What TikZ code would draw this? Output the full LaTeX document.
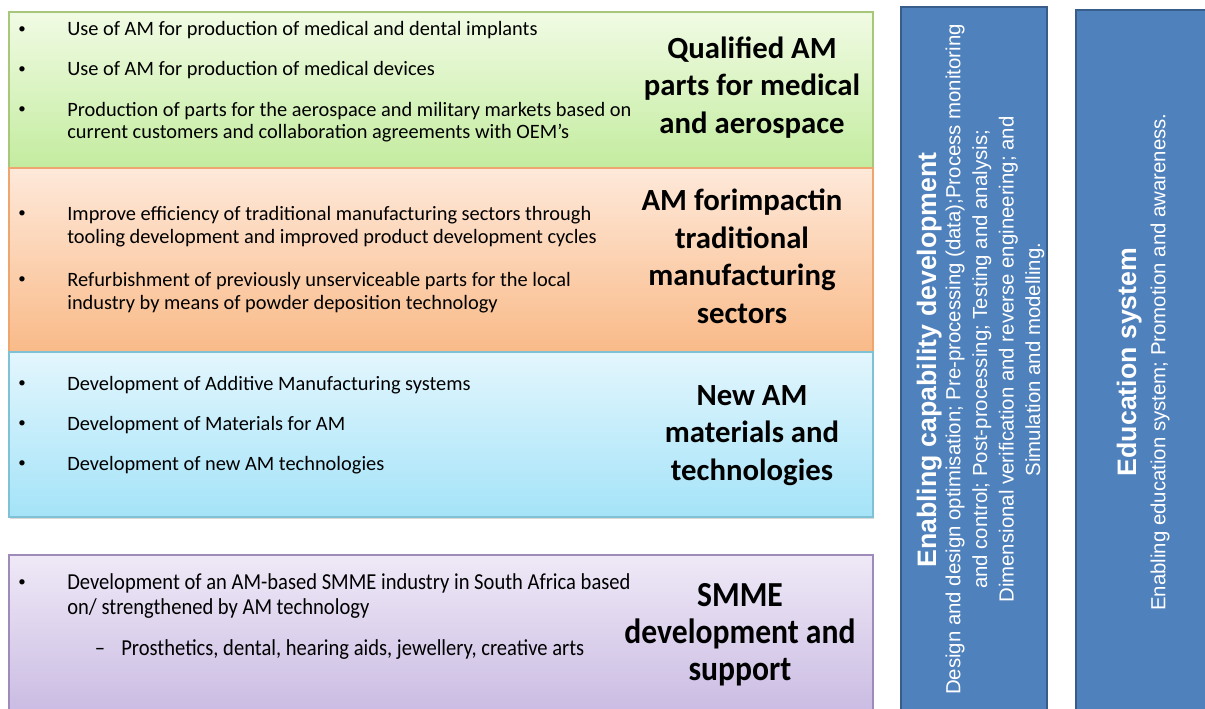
\documentclass[tikz,border=0pt]{standalone}
\usepackage{fontspec}
\setmainfont{Carlito}
\newfontfamily\pillarfont{Liberation Sans}
\newfontfamily\slimfont[FakeStretch=0.9]{Carlito}
\usetikzlibrary{shadows}
\definecolor{grnT}{HTML}{F1FBE4}
\definecolor{grnB}{HTML}{C3EC9F}
\definecolor{grnD}{HTML}{A9C77A}
\definecolor{orgT}{HTML}{FEE9DA}
\definecolor{orgB}{HTML}{F9BA88}
\definecolor{orgD}{HTML}{EFA56E}
\definecolor{bluT}{HTML}{E3F6FD}
\definecolor{bluB}{HTML}{A4E3F8}
\definecolor{bluD}{HTML}{7FC2D6}
\definecolor{purT}{HTML}{EFE9F7}
\definecolor{purB}{HTML}{C9BAE2}
\definecolor{purD}{HTML}{9E8BBA}
\definecolor{pilF}{HTML}{4F81BD}
\definecolor{pilD}{HTML}{385D8A}
\tikzset{
  band/.style={draw=#1D,line width=0.6pt,top color=#1T,bottom color=#1B,
    drop shadow={shadow xshift=0.6pt,shadow yshift=-1.4pt,opacity=0.3}},
  pillar/.style={draw=pilD,line width=0.9pt,fill=pilF,
    drop shadow={shadow xshift=0.6pt,shadow yshift=-1.4pt,opacity=0.3}},
  amitem/.style={anchor=base west,inner sep=0pt,align=left,
    font=\fontsize{11.6}{13}\selectfont},
  amdot/.style={anchor=base,inner sep=0pt,font=\fontsize{8.5}{10}\selectfont},
  amtitle/.style={anchor=base,inner sep=0pt,align=center,
    font=\bfseries\fontsize{17.5}{21.3}\selectfont},
  vtitle/.style={rotate=90,anchor=base,inner sep=0pt,text=white,
    font=\pillarfont\bfseries\fontsize{15.2}{18}\selectfont},
  vtext/.style={rotate=90,inner sep=0pt,align=center,text=white,
    font=\pillarfont\fontsize{11.6}{15.1}\selectfont},
}
% bullet on the first baseline, text node sits on its last baseline
\newcommand{\amline}[4]{%
  \node[amdot] (#1dot) at (0.44,#2) {\raisebox{1.2pt}{\textbullet}};
  \node[amitem] (#1) at (1.34,#3) {#4};
}

\begin{document}
\begin{tikzpicture}
\clip (0,0) rectangle (24.1,14.16);
% stacked bands
\draw[band=grn] (0.18,13.92) rectangle (17.46,10.80);
\draw[band=org] (0.18,10.80) rectangle (17.46,7.12);
\draw[band=blu] (0.18,7.12) rectangle (17.46,3.82);
\draw[band=pur] (0.18,3.06) rectangle (17.46,-0.2);
% side pillars
\draw[pillar] (18.02,14.02) rectangle (20.94,-0.3);
\draw[pillar] (21.52,13.96) rectangle (24.5,-0.3);

\amline{med}{13.44}{13.44}{Use of AM for production of medical and dental implants}
\amline{dev}{12.64}{12.64}{Use of AM for production of medical devices}
\amline{aero}{11.84}{11.38}{Production of parts for the aerospace and military markets based on\\current customers and collaboration agreements with OEM's}
\node[amtitle] (qual) at (15.04,11.50) {Qualified AM\\parts for medical\\and aerospace};

\amline{eff}{9.76}{9.30}{Improve efficiency of traditional manufacturing sectors through\\tooling development and improved product development cycles}
\amline{refurb}{8.44}{7.98}{Refurbishment of previously unserviceable parts for the local\\industry by means of powder deposition technology}
\node[amtitle] (trad) at (14.84,7.70) {AM forimpactin\\traditional\\manufacturing\\sectors};

\amline{sys}{6.36}{6.36}{Development of Additive Manufacturing systems}
\amline{mat}{5.56}{5.56}{Development of Materials for AM}
\amline{tech}{4.76}{4.76}{Development of new AM technologies}
\node[amtitle] (newam) at (15.04,4.56) {New AM\\materials and\\technologies};

\node[amdot] (smmedot) at (0.44,2.38) {\raisebox{1.2pt}{\textbullet}};
\node[amitem,font=\slimfont\fontsize{13}{14.2}\selectfont] (smme) at (1.34,1.88)
  {Development of an AM-based SMME industry in South Africa based\\on/ strengthened by AM technology};
\node[anchor=base,inner sep=0pt,font=\slimfont\fontsize{13}{14.2}\selectfont] (prosdash) at (2.0,1.06) {–};
\node[amitem,font=\slimfont\fontsize{13}{14.2}\selectfont] (pros) at (2.42,1.06)
  {Prosthetics, dental, hearing aids, jewellery, creative arts};
\node[amtitle,font=\slimfont\bfseries\fontsize{20}{20.8}\selectfont] (smmet) at (14.8,0.56)
  {SMME\\development and\\support};

\node[vtitle] (capt) at (18.72,6.96) {Enabling capability development};
\node[vtext] (capx) at (19.90,6.97) {Design and design optimisation; Pre-processing (data);Process monitoring\\and control; Post-processing; Testing and analysis;\\Dimensional verification and reverse engineering; and\\Simulation and modelling.};
\node[vtitle] (edut) at (22.72,6.92) {Education system};
\node[vtext] (edux) at (23.20,6.92) {Enabling education system; Promotion and awareness.};
\end{tikzpicture}
\end{document}
